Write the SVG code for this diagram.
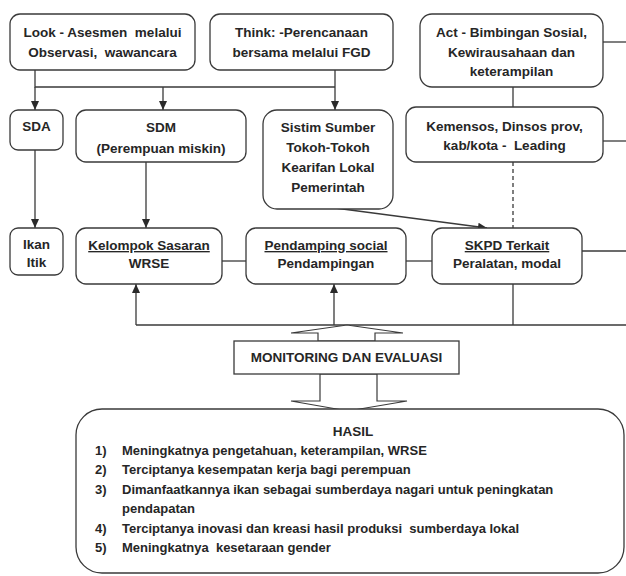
<svg xmlns="http://www.w3.org/2000/svg" width="626" height="576" viewBox="0 0 626 576">
<defs>
<style>
.box{fill:#fff;stroke:#3a3a3a;stroke-width:1.3}
.ln{fill:none;stroke:#3a3a3a;stroke-width:1.3}
.blk{fill:#fff;stroke:#3a3a3a;stroke-width:1.2}
text{font-family:"Liberation Sans",Arial,sans-serif;font-weight:bold;font-size:13.5px;fill:#262626}
.c{text-anchor:middle}
.u{text-decoration:underline}
.l{font-size:13px}
</style>
<marker id="ah" markerWidth="10" markerHeight="10" refX="9" refY="5" orient="auto" markerUnits="userSpaceOnUse">
<path d="M0,1 L9,5 L0,9 Z" fill="#2a2a2a"/>
</marker>
</defs>
<rect width="626" height="576" fill="#fff"/>

<g id="connectors">
<path class="ln" d="M35 70 V87 H335"/>
<path class="ln" d="M35 87 V110" marker-end="url(#ah)"/>
<path class="ln" d="M163 87 V110" marker-end="url(#ah)"/>
<path class="ln" d="M335 70 V110" marker-end="url(#ah)"/>
<path class="ln" d="M35 150 V228" marker-end="url(#ah)"/>
<path class="ln" d="M146 162 V228" marker-end="url(#ah)"/>
<path class="ln" d="M335 208 L487 228" marker-end="url(#ah)"/>
<path class="ln" d="M222 261 H246"/>
<path class="ln" d="M406 261 H432"/>
<path class="ln" d="M603 42 H626"/>
<path class="ln" d="M513 87 V107"/>
<path class="ln" d="M603 141 H626"/>
<path class="ln" d="M513 162 V228" stroke-dasharray="4,3"/>
<path class="ln" d="M582 251 H626"/>
<path class="ln" d="M513 284 V325"/>
<path class="ln" d="M136 325 H626"/>
<path class="ln" d="M136 325 V284" marker-end="url(#ah)"/>
<path class="ln" d="M334 325 V284" marker-end="url(#ah)"/>
<polygon class="blk" points="318,341 318,333 291,333 347,325 403,333 375,333 375,341"/>
<polygon class="blk" points="320,374 320,401 291,401 348,411 407,401 377,401 377,374"/>
</g>

<g id="look">
<rect class="box" x="10" y="14" width="185" height="56" rx="10"/>
<text class="c" x="102.5" y="37" xml:space="preserve">Look - Asesmen  melalui</text>
<text class="c" x="102.5" y="57" xml:space="preserve">Observasi,  wawancara</text>
</g>
<g id="think">
<rect class="box" x="210" y="14" width="183" height="56" rx="10"/>
<text class="c" x="301.5" y="37">Think: -Perencanaan</text>
<text class="c" x="301.5" y="57">bersama melalui FGD</text>
</g>
<g id="act">
<rect class="box" x="420" y="14" width="183" height="73" rx="12"/>
<text class="c" x="511.5" y="37">Act - Bimbingan Sosial,</text>
<text class="c" x="511.5" y="57">Kewirausahaan dan</text>
<text class="c" x="511.5" y="76">keterampilan</text>
</g>
<g id="kemensos">
<rect class="box" x="406" y="107" width="197" height="55" rx="10"/>
<text class="c" x="504.5" y="131">Kemensos, Dinsos prov,</text>
<text class="c" x="504.5" y="150" xml:space="preserve">kab/kota -  Leading</text>
</g>
<g id="sda">
<rect class="box" x="10" y="110" width="53" height="40" rx="8"/>
<text class="c" x="36.5" y="131">SDA</text>
</g>
<g id="sdm">
<rect class="box" x="76" y="110" width="170" height="52" rx="10"/>
<text class="c" x="161" y="132">SDM</text>
<text class="c" x="161" y="153">(Perempuan miskin)</text>
</g>
<g id="sistim">
<rect class="box" x="263" y="110" width="130" height="99" rx="14"/>
<text class="c" x="328" y="132">Sistim Sumber</text>
<text class="c" x="328" y="152">Tokoh-Tokoh</text>
<text class="c" x="328" y="172">Kearifan Lokal</text>
<text class="c" x="328" y="192">Pemerintah</text>
</g>
<g id="ikan">
<rect class="box" x="10" y="228" width="53" height="47" rx="8"/>
<text class="c" x="36.5" y="249">Ikan</text>
<text class="c" x="36.5" y="267">Itik</text>
</g>
<g id="kelompok">
<rect class="box" x="76" y="228" width="146" height="56" rx="10"/>
<text class="c u" x="149" y="250">Kelompok Sasaran</text>
<text class="c" x="149" y="268">WRSE</text>
</g>
<g id="pendamping">
<rect class="box" x="246" y="228" width="160" height="56" rx="10"/>
<text class="c u" x="326" y="250">Pendamping social</text>
<text class="c" x="326" y="268">Pendampingan</text>
</g>
<g id="skpd">
<rect class="box" x="432" y="228" width="150" height="56" rx="10"/>
<text class="c u" x="507" y="250">SKPD Terkait</text>
<text class="c" x="507" y="268">Peralatan, modal</text>
</g>
<g id="monitoring">
<rect class="box" x="234" y="341" width="225" height="33" rx="0"/>
<text class="c" x="346.5" y="362">MONITORING DAN EVALUASI</text>
</g>
<g id="hasil">
<rect class="box" x="76" y="409" width="548" height="164" rx="26"/>
<text class="c" x="353" y="436">HASIL</text>
<text class="l" x="95" y="455">1)</text><text class="l" x="122" y="455">Meningkatnya pengetahuan, keterampilan, WRSE</text>
<text class="l" x="95" y="474">2)</text><text class="l" x="122" y="474">Terciptanya kesempatan kerja bagi perempuan</text>
<text class="l" x="95" y="494">3)</text><text class="l" x="122" y="494">Dimanfaatkannya ikan sebagai sumberdaya nagari untuk peningkatan</text>
<text class="l" x="122" y="513">pendapatan</text>
<text class="l" x="95" y="533">4)</text><text class="l" x="122" y="533" xml:space="preserve">Terciptanya inovasi dan kreasi hasil produksi  sumberdaya lokal</text>
<text class="l" x="95" y="552">5)</text><text class="l" x="122" y="552" xml:space="preserve">Meningkatnya  kesetaraan gender</text>
</g>
</svg>
